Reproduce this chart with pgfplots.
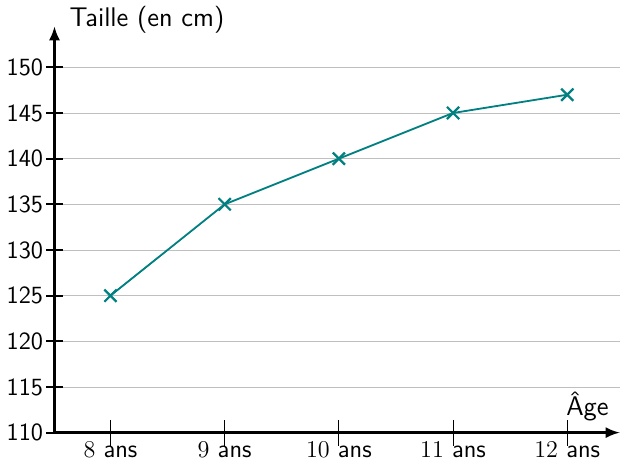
\documentclass[border=0pt]{standalone}
\usepackage{pgfplots}
\pgfplotsset{compat=1.18}
\usetikzlibrary{arrows.meta}
\renewcommand{\familydefault}{\sfdefault}
\begin{document}
\begin{tikzpicture}
\begin{axis}[
  scale only axis,
  width=281pt, height=202pt,
  xmin=7.51, xmax=12.46,
  ymin=110, ymax=154.5,
  axis lines=left,
  axis line style={line width=1.2pt, -{Latex[length=7pt,width=5.5pt]}},
  xtick={8,9,10,11,12},
  xticklabels={$8$ ans,$9$ ans,$10$ ans,$11$ ans,$12$ ans},
  ytick={110,115,...,150},
  xtick align=center, ytick align=center,
  ytick style={line width=1pt, black, /pgfplots/major tick length=8pt},
  xtick style={thin, black, /pgfplots/major tick length=13pt},
  xticklabel style={font=\sffamily\fontsize{12.5}{15}\selectfont, yshift=1pt},
  yticklabel style={font=\sffamily\fontsize{12.3}{15}\selectfont},
  /pgf/number format/assume math mode=true,
  ymajorgrids,
  grid style={gray!50, thin},
  ylabel={Taille (en cm)},
  ylabel style={rotate=-90, at={(rel axis cs:0,1)}, anchor=west, xshift=4pt, yshift=3pt, font=\sffamily\fontsize{13.4}{16}\selectfont},
  xlabel={\^Age},
  xlabel style={at={(rel axis cs:1,0)}, anchor=south east, xshift=-2pt, yshift=2pt, font=\sffamily\fontsize{13.4}{16}\selectfont},
  clip=false,
]
\addplot[teal, line width=0.9pt, mark=x, mark size=4.3pt, mark options={line width=1.1pt}] coordinates {
  (8,125) (9,135) (10,140) (11,145) (12,147)
};
\end{axis}
\end{tikzpicture}
\end{document}
